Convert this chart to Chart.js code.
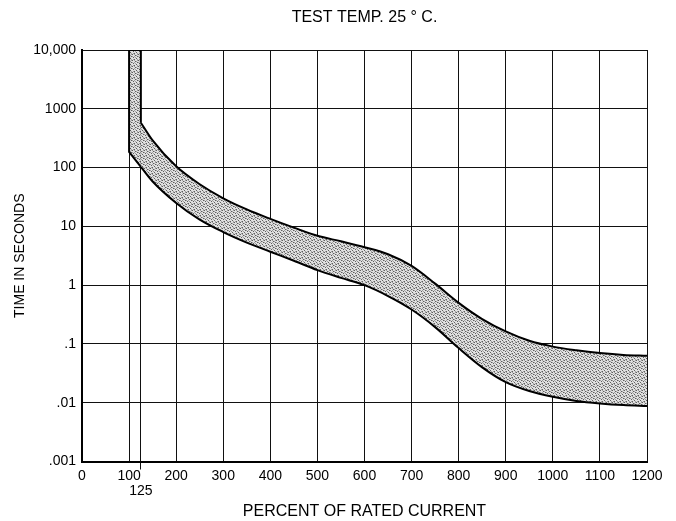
<!DOCTYPE html>
<html>
<head>
<meta charset="utf-8">
<script src="https://cdn.jsdelivr.net/npm/chart.js@4/dist/chart.umd.min.js"></script>
<style>
    html, body { margin: 0; padding: 0; background: #ffffff; }
    #wrap { width: 676px; height: 521px; }
</style>
</head>
<body>
<div id="wrap"><canvas id="fuseChart"></canvas></div>
<script>
// Band edges, % of rated current -> seconds (read from 125 % on)
const edgeCurrent = [125, 150, 200, 250, 300, 350, 400, 450, 500, 550, 600, 650, 700, 750, 800, 850, 900, 950, 1000, 1050, 1100, 1150, 1200];
const upperTime = [580, 290, 105, 52, 30, 19.4, 13.4, 9.5, 6.9, 5.56, 4.42, 3.35, 2.12, 1.06, 0.5, 0.265, 0.163, 0.113, 0.09, 0.078, 0.07, 0.065, 0.063];
const lowerTime = [103, 58, 25, 13, 8, 5.3, 3.7, 2.6, 1.8, 1.33, 1.0, 0.653, 0.385, 0.193, 0.085, 0.04, 0.0224, 0.0158, 0.0126, 0.0107, 0.0097, 0.0091, 0.0088];

// Vertical start of the band: lower edge rises at 100 %, upper edge at 125 %
const capCurrent = [125, 125, 100, 100, 125];
const capTime = [580, 10000, 10000, 185, 103];

// Axis ticks
const xTickValues = [0, 100, 125, 200, 300, 400, 500, 600, 700, 800, 900, 1000, 1100, 1200];
const yTickValues = [0.001, 0.01, 0.1, 1, 10, 100, 1000, 10000];
const yTickLabels = ['.001', '.01', '.1', '1', '10', '100', '1000', '10,000'];

// Stippled grey fill, like the dot screen of the print
function makeStipple() {
    const c = document.createElement('canvas');
    c.width = 6;
    c.height = 6;
    const g = c.getContext('2d');
    g.fillStyle = '#e0e0e0';
    g.fillRect(0, 0, 6, 6);
    g.fillStyle = '#5e5e5e';
    [[0, 0], [3, 1], [5, 2], [1, 3], [4, 4], [2, 5]].forEach(p => g.fillRect(p[0], p[1], 1, 1));
    g.fillStyle = '#a0a0a0';
    [[2, 0], [5, 0], [0, 2], [3, 3], [1, 5], [5, 5], [4, 1], [2, 2]].forEach(p => g.fillRect(p[0], p[1], 1, 1));
    return g.createPattern(c, 'repeat');
}

const stipple = makeStipple();
const toPoints = (xs, ys) => xs.map((x, i) => ({ x: x, y: ys[i] }));

Chart.defaults.font.family = '"Liberation Sans", Arial, sans-serif';
Chart.defaults.font.size = 14;
Chart.defaults.color = '#000000';

const ctx = document.getElementById('fuseChart').getContext('2d');
new Chart(ctx, {
    type: 'line',
    data: {
        datasets: [
            {
                // lower edge
                data: toPoints(edgeCurrent, lowerTime),
                borderColor: '#000000',
                borderWidth: 2,
                cubicInterpolationMode: 'monotone',
                pointRadius: 0,
                fill: false
            },
            {
                // upper edge, filled down to the lower edge
                data: toPoints(edgeCurrent, upperTime),
                borderColor: '#000000',
                borderWidth: 2,
                backgroundColor: stipple,
                cubicInterpolationMode: 'monotone',
                pointRadius: 0,
                fill: 0
            },
            {
                // vertical start of the band
                data: toPoints(capCurrent, capTime),
                borderColor: '#000000',
                borderWidth: 2,
                backgroundColor: stipple,
                tension: 0,
                pointRadius: 0,
                fill: 'shape'
            }
        ]
    },
    options: {
        responsive: true,
        maintainAspectRatio: false,
        animation: false,
        layout: { padding: { left: 0, right: 29, top: 0, bottom: 0 } },
        plugins: {
            legend: { display: false },
            tooltip: { enabled: false },
            title: {
                display: true,
                text: 'TEST TEMP. 25 \u00B0 C.',
                fullSize: false,
                color: '#000000',
                font: { size: 16, weight: 'normal' },
                padding: { top: 8.4, bottom: 22.4 }
            }
        },
        scales: {
            x: {
                type: 'linear',
                min: 0,
                max: 1200,
                afterBuildTicks: (scale) => {
                    scale.ticks = xTickValues.map(v => ({ value: v }));
                },
                afterFit: (scale) => { scale.height = 59.5; },
                ticks: {
                    autoSkip: false,
                    maxRotation: 0,
                    padding: -1,
                    color: '#000000',
                    font: { size: 14, lineHeight: 1.1 },
                    callback: (v) => (v === 125 ? ['', '125'] : String(v))
                },
                grid: {
                    color: '#111111',
                    lineWidth: 1,
                    tickLength: 8,
                    tickColor: (c) => (c.tick && c.tick.value === 125 ? '#111111' : 'rgba(0,0,0,0)')
                },
                border: { color: '#000000', width: 2 },
                title: {
                    display: true,
                    text: 'PERCENT OF RATED CURRENT',
                    color: '#000000',
                    font: { size: 16 },
                    padding: { top: 0, bottom: 0 }
                }
            },
            y: {
                type: 'logarithmic',
                min: 0.001,
                max: 10000,
                afterBuildTicks: (scale) => {
                    scale.ticks = yTickValues.map(v => ({ value: v }));
                },
                afterFit: (scale) => { scale.width = 82; },
                ticks: {
                    padding: 6,
                    color: '#000000',
                    font: { size: 14 },
                    callback: (v) => yTickLabels[yTickValues.indexOf(v)]
                },
                grid: {
                    color: '#111111',
                    lineWidth: 1,
                    drawTicks: false
                },
                border: { color: '#000000', width: 2 },
                title: {
                    display: true,
                    text: 'TIME IN SECONDS',
                    color: '#000000',
                    font: { size: 14 },
                    padding: { top: 11.6, bottom: 0 }
                }
            }
        }
    }
});
</script>
</body>
</html>
